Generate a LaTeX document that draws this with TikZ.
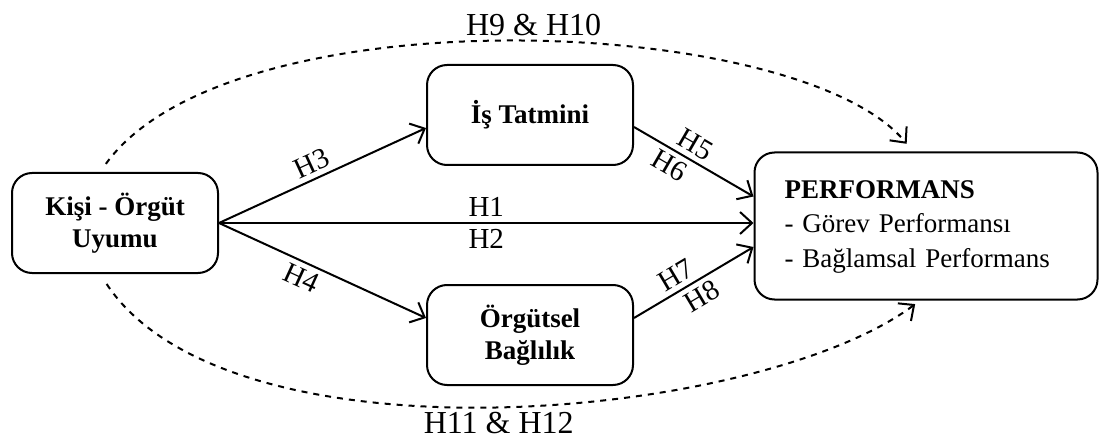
\documentclass[tikz,border=0pt]{standalone}
\usepackage{fontspec}
\setmainfont{Liberation Serif}
\usetikzlibrary{arrows.meta,positioning,calc}

\tikzset{
    box/.style={draw, line width=1pt, rounded corners=10pt, align=center,
        font=\fontsize{13.5}{16}\selectfont\bfseries,
        minimum width=103pt, minimum height=50pt},
    hyp/.style={line width=1pt},
    lbl/.style={font=\fontsize{14.5}{16}\selectfont, inner sep=2.5pt},
    medlbl/.style={font=\fontsize{16}{18}\selectfont, inner sep=3pt}
}

\begin{document}
\begin{tikzpicture}[x=0.5pt,y=-0.5pt,>={Straight Barb[length=6pt,width=11pt]}]
    \useasboundingbox (0,0) rectangle (1099,444);

    % Constructs
    \node[box] (kou) at (115,223) {Kişi - Örgüt\\Uyumu};
    \node[box] (is) at (530,115) {İş Tatmini};
    \node[box] (ob) at (530,335) {Örgütsel\\Bağlılık};
    \node[draw, line width=1pt, rounded corners=10pt, align=left,
        text width=141.5pt, inner xsep=15pt, minimum height=73.5pt,
        font=\fontsize{13.5}{17.5}\selectfont] (perf) at (926,226)
        {\begin{tabular}{@{}l@{}}\textbf{PERFORMANS}\\- Görev Performansı\\- Bağlamsal Performans\end{tabular}};

    % Direct and indirect paths
    \draw[hyp,->] (kou.east) -- ([yshift=-6.5pt]is.west)
        node[lbl,pos=0.48,sloped,above] {H3};
    \draw[hyp,->] (kou.east) -- ([yshift=8.5pt]ob.west)
        node[lbl,pos=0.43,sloped,below] {H4};
    \draw[hyp,->] (kou.east) -- (kou.east -| perf.west)
        node[lbl,midway,above] {H1}
        node[lbl,midway,below] {H2};
    \draw[hyp,->] ([yshift=-6pt]is.east) -- ([yshift=14.75pt]perf.west)
        node[lbl,pos=0.45,sloped,above] {H5}
        node[lbl,pos=0.36,sloped,below] {H6};
    \draw[hyp,->] ([yshift=8.5pt]ob.east) -- ([yshift=-10.5pt]perf.west)
        node[lbl,pos=0.42,sloped,above] {H7}
        node[lbl,pos=0.5,sloped,below] {H8};

    % Mediated paths
    \draw[hyp,dashed,->,shorten <=5pt,shorten >=5pt]
        ([xshift=-7.5pt]kou.north) .. controls (230,-8) and (800,14) ..
        ([xshift=-6.5pt]perf.north)
        node[medlbl,pos=0.52,above] {H9 \& H10};
    \draw[hyp,dashed,->,shorten <=6pt,shorten >=3pt]
        ([xshift=-7.5pt]kou.south) .. controls (230,470) and (760,420) ..
        ([xshift=-3pt]perf.south)
        node[medlbl,pos=0.5,below] {H11 \& H12};
\end{tikzpicture}
\end{document}
